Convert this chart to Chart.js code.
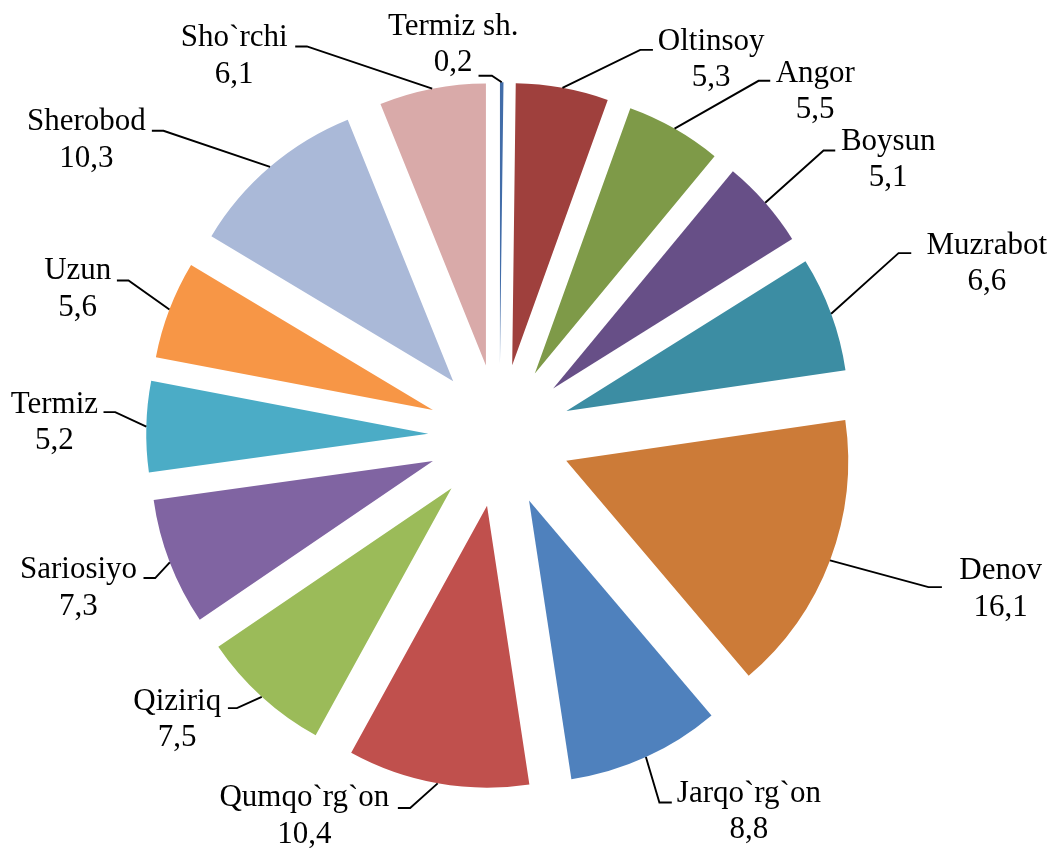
<!DOCTYPE html>
<html>
<head>
<meta charset="utf-8">
<script src="https://cdn.jsdelivr.net/npm/chart.js@4.4.1/dist/chart.umd.min.js"></script>
<style>
  html, body { margin: 0; padding: 0; background: #ffffff; }
  #wrap { width: 1051px; height: 848px; }
</style>
</head>
<body>
<div id="wrap"><canvas id="c" width="1051" height="848"></canvas></div>
<script>
// ---- data ----
const categories = ["Termiz sh.", "Oltinsoy", "Angor", "Boysun", "Muzrabot", "Denov", "Jarqo`rg`on",
  "Qumqo`rg`on", "Qiziriq", "Sariosiyo", "Termiz", "Uzun", "Sherobod", "Sho`rchi"];
const values = [0.2, 5.3, 5.5, 5.1, 6.6, 16.1, 8.8, 10.4, 7.5, 7.3, 5.2, 5.6, 10.3, 6.1];

// ---- styles ----
const sliceColors = ["#426DA9", "#9F403D", "#7E9A48", "#674F87", "#3C8DA3", "#CC7B38", "#4F81BD",
  "#C0504D", "#9BBB59", "#8064A2", "#4BACC6", "#F79646", "#AAB9D8", "#D9AAA9"];
const EXPLODE = 71.3;       // outward shift of each slice (px)
const FONT = '31px "Liberation Serif", "Times New Roman", serif';
const LINE_GAP = 36.6;
// label layout relative to each slice's leader start point:
// [elbow dx, elbow dy, horizontal length, text centre dx (from horizontal end), first baseline dy]
const labelLayout = [
  [-9.8, -6.4, -13.4, -25.3, -41],
  [77.8, -38, 12.7, 58.3, 0],
  [84, -47.8, 11.7, 45, 0.7],
  [58.3, -52.2, 11.7, 53, -0.7],
  [67.4, -60.6, 12.7, 75.5, 0.7],
  [98.5, 26.7, 13.4, 58.8, -8],
  [13.5, 45.5, 12.4, 77.1, -1],
  [-27.5, 24.7, -12.3, -93.5, -1.6],
  [-24.8, 11.3, -9, -50.7, 1.7],
  [-14.6, 15.6, -11.7, -65, 0],
  [-31.1, -14.5, -11.7, -49.1, 0.4],
  [-40.9, -29.1, -11.6, -39.2, -1.4],
  [-106.6, -36.1, -11.6, -65.4, -0.3],
  [-125.3, -42.2, -11.7, -61, 0]
];

// exploded slices: translate each arc outward along its bisector (pure shift, like the original)
const origArcDraw = Chart.ArcElement.prototype.draw;
Chart.ArcElement.prototype.draw = function (ctx) {
  const mid = (this.startAngle + this.endAngle) / 2;
  ctx.save();
  ctx.translate(Math.cos(mid) * EXPLODE, Math.sin(mid) * EXPLODE);
  origArcDraw.call(this, ctx);
  ctx.restore();
};

const labelPlugin = {
  id: 'pieLabels',
  afterDatasetsDraw(chart) {
    const ctx = chart.ctx;
    const meta = chart.getDatasetMeta(0);
    ctx.save();
    ctx.font = FONT;
    ctx.fillStyle = '#000';
    ctx.strokeStyle = '#000';
    ctx.lineWidth = 1.9;
    ctx.textAlign = 'center';
    ctx.textBaseline = 'alphabetic';
    meta.data.forEach((arc, i) => {
      const p = arc.getProps(['x', 'y', 'startAngle', 'endAngle', 'outerRadius'], true);
      const mid = (p.startAngle + p.endAngle) / 2;
      const cx = p.x + Math.cos(mid) * EXPLODE;
      const cy = p.y + Math.sin(mid) * EXPLODE;
      const px = cx + Math.cos(mid) * p.outerRadius;
      const py = cy + Math.sin(mid) * p.outerRadius;
      const L = labelLayout[i];
      const ex = px + L[0], ey = py + L[1];
      const hx = ex + L[2];
      ctx.beginPath();
      ctx.moveTo(px, py);
      ctx.lineTo(ex, ey);
      ctx.lineTo(hx, ey);
      ctx.stroke();
      const tx = hx + L[3];
      const ty = ey + L[4];
      ctx.fillText(categories[i], tx, ty);
      ctx.fillText(values[i].toFixed(1).replace('.', ','), tx, ty + LINE_GAP);
    });
    ctx.restore();
  }
};

new Chart(document.getElementById('c'), {
  type: 'pie',
  data: {
    labels: categories,
    datasets: [{
      data: values,
      backgroundColor: sliceColors,
      borderWidth: 0,
      borderColor: 'rgba(0,0,0,0)'
    }]
  },
  options: {
    responsive: false,
    animation: false,
    radius: 282,
    layout: { padding: { left: 0, right: 52, top: 23, bottom: 0 } },
    plugins: { legend: { display: false }, tooltip: { enabled: false } },
    events: []
  },
  plugins: [labelPlugin]
});
</script>
</body>
</html>
